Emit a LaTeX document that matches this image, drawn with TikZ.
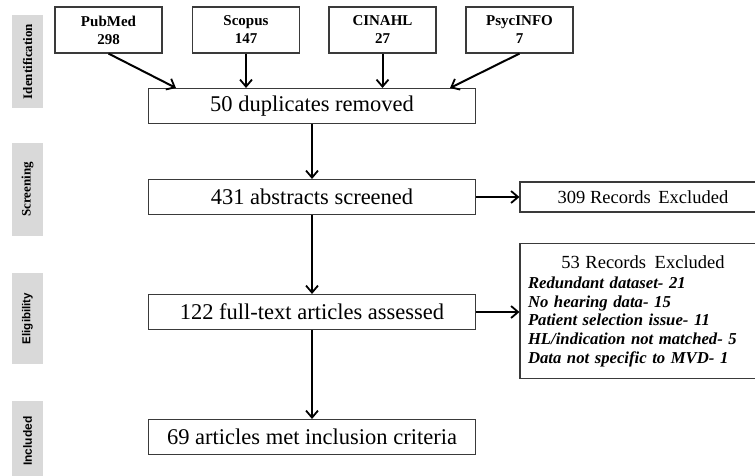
\documentclass[tikz,border=0pt]{standalone}
\usepackage{fontspec}
\setmainfont{Liberation Serif}
\setsansfont{Liberation Sans}
\usetikzlibrary{arrows.meta,calc}
\definecolor{sidegray}{HTML}{D9D9D9}
\definecolor{boxline}{HTML}{3A3A3A}
\tikzset{
  srcbox/.style={draw=boxline, line width=1.1pt, minimum width=107pt, minimum height=46pt, align=center, inner sep=0pt, font=\bfseries\fontsize{15}{18}\selectfont},
  mainbox/.style={draw=boxline, line width=1.1pt, minimum width=327pt, minimum height=35pt, inner sep=0pt, font=\fontsize{22.5}{26}\selectfont},
  exbox/.style={draw=boxline, line width=1.1pt, minimum width=246pt, inner sep=0pt},
  sidelab/.style={fill=sidegray, minimum width=31pt, inner sep=0pt, rotate=90, font=\bfseries\fontsize{13}{15}\selectfont},
  arr/.style={line width=2pt, -{Straight Barb[length=7pt,width=12pt,line width=1.8pt]}}
}
\begin{document}
\begin{tikzpicture}[x=1pt,y=-1pt]
\useasboundingbox (0,0) rectangle (755,475);
\clip (0,0) rectangle (755,475);
\fill[white] (0,0) rectangle (755,475);
% side labels
\node[sidelab, minimum height=31pt, minimum width=93pt] (idl) at (27.5,61.5) {Identification};
\node[sidelab, minimum height=31pt, minimum width=93pt] (scl) at (27.5,189.5) {Screening};
\node[sidelab, minimum height=31pt, minimum width=91pt, font=\sffamily\bfseries\fontsize{11.5}{14}\selectfont] (ell) at (27.5,318.5) {Eligibility};
\node[sidelab, minimum height=31pt, minimum width=80pt, font=\sffamily\bfseries\fontsize{12}{14}\selectfont] (inl) at (27.5,441) {Included};
% sources
\node[srcbox] (pub) at (108.5,30) {PubMed\\298};
\node[srcbox] (sco) at (246,30) {Scopus\\147};
\node[srcbox] (cin) at (382.5,30) {CINAHL\\27};
\node[srcbox] (psy) at (519.5,30) {PsycINFO\\7};
% main flow
\node[mainbox] (dup) at (312,106) {50 duplicates removed};
\node[mainbox] (scr) at (312,197) {431 abstracts screened};
\node[mainbox] (ful) at (312,312) {122 full-text articles assessed};
\node[mainbox] (inc) at (312,437) {69 articles met inclusion criteria};
% exclusions
\node[exbox, minimum height=30pt, font=\fontsize{18.5}{22}\selectfont] (ex1) at (643,197) {309 Records\ \,Excluded};
\node[exbox, minimum height=135pt, text width=230pt, align=left, font=\bfseries\itshape\fontsize{16.7}{18.7}\selectfont] (ex2) at (643,311) {\makebox[230pt][c]{\mdseries\upshape\fontsize{18.5}{20}\selectfont 53 Records\ \,Excluded}\\[1.5pt]
Redundant dataset- 21\\
No hearing data- 15\\
Patient selection issue- 11\\
HL/indication not matched- 5\\
Data not specific to MVD- 1};
% connectors
\draw[arr] (pub.south) -- ($(dup.north west)+(28,0)$);
\draw[arr] (sco.south) -- (sco.south |- dup.north);
\draw[arr] (cin.south) -- (cin.south |- dup.north);
\draw[arr] (psy.south) -- ($(dup.north east)+(-26,0)$);
\draw[arr] (dup) -- (scr);
\draw[arr] (scr) -- (ful);
\draw[arr] (ful) -- (inc);
\draw[arr] (scr.east) -- (ex1.west);
\draw[arr] (ful.east) -- (ful.east -| ex2.west);
\end{tikzpicture}
\end{document}
